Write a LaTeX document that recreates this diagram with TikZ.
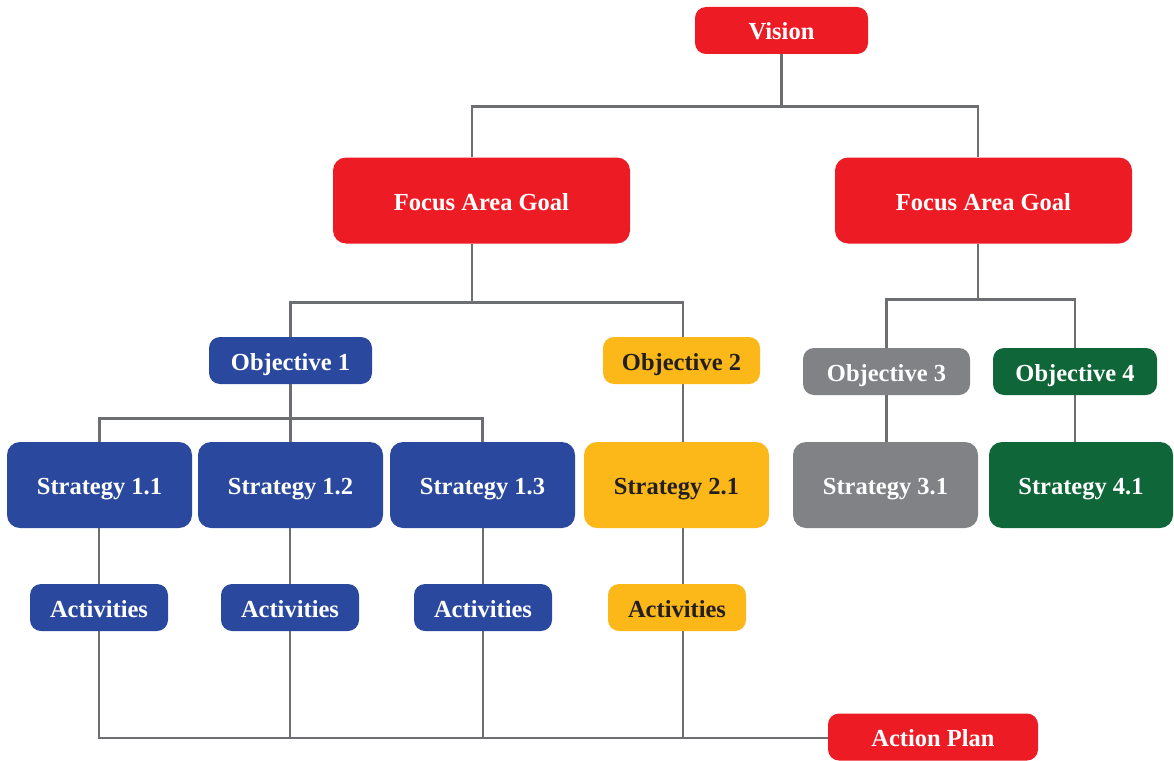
\documentclass[tikz,border=0pt]{standalone}
\usepackage{fontspec}
\setmainfont{Liberation Serif}
\usetikzlibrary{backgrounds}
\definecolor{redc}{HTML}{ED1C24}
\definecolor{bluec}{HTML}{2A489E}
\definecolor{yellowc}{HTML}{FBB818}
\definecolor{grayc}{HTML}{808285}
\definecolor{greenc}{HTML}{0F6638}
\definecolor{linec}{HTML}{6D6E71}
\definecolor{darktext}{HTML}{231F20}
\tikzset{
  base/.style={rounded corners=11pt, inner sep=0pt, text=white, align=center,
    text height=19pt, text depth=0pt,
    font=\fontsize{24.5}{28}\selectfont\bfseries},
  smallbox/.style={base, minimum height=47pt},
  bigbox/.style={base, minimum height=86pt, rounded corners=13pt},
  redbox/.style={fill=redc},
  bluebox/.style={fill=bluec},
  yellowbox/.style={fill=yellowc, text=darktext},
  graybox/.style={fill=grayc},
  greenbox/.style={fill=greenc},
  conn/.style={draw=linec, line width=2.8pt}
}
\begin{document}
\begin{tikzpicture}[x=1pt,y=-1pt]
\useasboundingbox (0,0) rectangle (1174,760);
% top
\node[smallbox, redbox, minimum width=173pt] (vision) at (781.5,30.5) {Vision};
\node[bigbox, redbox, minimum width=297pt] (fagA) at (481.5,200.5) {Focus Area Goal};
\node[bigbox, redbox, minimum width=297pt] (fagB) at (983.5,200.5) {Focus Area Goal};
% objectives
\node[smallbox, bluebox, minimum width=163pt] (obj1) at (290.5,360.5) {Objective 1};
\node[smallbox, yellowbox, minimum width=157pt] (obj2) at (681.5,360.5) {Objective 2};
\node[smallbox, graybox, minimum width=167pt] (obj3) at (886.5,371.5) {Objective 3};
\node[smallbox, greenbox, minimum width=164pt] (obj4) at (1075,371.5) {Objective 4};
% strategies
\node[bigbox, bluebox, minimum width=185pt] (s11) at (99.5,485) {Strategy 1.1};
\node[bigbox, bluebox, minimum width=185pt] (s12) at (290.5,485) {Strategy 1.2};
\node[bigbox, bluebox, minimum width=185pt] (s13) at (482.5,485) {Strategy 1.3};
\node[bigbox, yellowbox, minimum width=185pt] (s21) at (676.5,485) {Strategy 2.1};
\node[bigbox, graybox, minimum width=185pt] (s31) at (885.5,485) {Strategy 3.1};
\node[bigbox, greenbox, minimum width=184pt] (s41) at (1081,485) {Strategy 4.1};
% activities
\node[smallbox, bluebox, minimum width=138pt] (a1) at (99,607.5) {Activities};
\node[smallbox, bluebox, minimum width=138pt] (a2) at (290,607.5) {Activities};
\node[smallbox, bluebox, minimum width=138pt] (a3) at (483,607.5) {Activities};
\node[smallbox, yellowbox, minimum width=138pt] (a4) at (677,607.5) {Activities};
% action plan
\node[smallbox, redbox, minimum width=210pt] (ap) at (933,737) {Action Plan};
\coordinate (bus) at ([yshift=-1pt]ap.west);

\begin{scope}[on background layer]
\draw[conn] (vision.south) -- ++(0,52) coordinate (j0);
\draw[conn] ([xshift=-9.5pt]fagA.north) |- (j0) -| ([xshift=-5.5pt]fagB.north);
\draw[conn] ([xshift=-9.5pt]fagA.south) -- ++(0,59) coordinate (j1);
\draw[conn] (obj1.north) |- (j1) -| ([xshift=1.5pt]obj2.north);
\draw[conn] ([xshift=-5.5pt]fagB.south) -- ++(0,56) coordinate (j2);
\draw[conn] (obj3.north) |- (j2) -| (obj4.north);
\draw[conn] (obj1.south) -- ++(0,34) coordinate (j3);
\draw[conn] (s11.north) |- (j3) -| (s13.north);
\draw[conn] (s12.north) -- (j3);
\draw[conn] ([xshift=1.5pt]obj2.south) -- ([xshift=6.5pt]s21.north);
\draw[conn] (obj3.south) -- (obj3.south |- s31.north);
\draw[conn] (obj4.south) -- (obj4.south |- s41.north);
\draw[conn] (a1.north |- s11.south) -- (a1.north);
\draw[conn] (a2.north |- s12.south) -- (a2.north);
\draw[conn] (a3.north |- s13.south) -- (a3.north);
\draw[conn] ([xshift=6.5pt]s21.south) -- ([xshift=6pt]a4.north);
\draw[conn] (a1.south) |- (bus);
\draw[conn] (a2.south) -- (a2.south |- bus);
\draw[conn] (a3.south) -- (a3.south |- bus);
\draw[conn] ([xshift=6pt]a4.south) coordinate (a4b) -- (a4b |- bus);
\end{scope}
\end{tikzpicture}
\end{document}
